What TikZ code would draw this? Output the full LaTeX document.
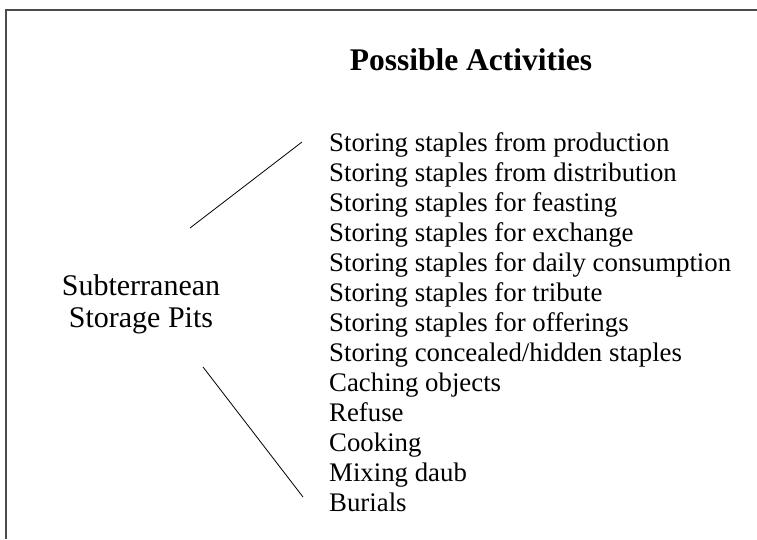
\documentclass[tikz,border=0pt]{standalone}
\usepackage{fontspec}
\setmainfont{Liberation Serif}
\usetikzlibrary{positioning}

\begin{document}
\begin{tikzpicture}[x=1pt,y=-1pt,
  item/.style={anchor=base west,inner sep=0pt,font=\fontsize{26.8}{30}\selectfont},
  head/.style={anchor=base,inner sep=0pt,font=\fontsize{31.5}{32}\selectfont\bfseries},
  pitsbox/.style={align=center,inner sep=0pt,font=\fontsize{30}{32}\selectfont},
  link/.style={line width=0.8pt}
]
  \useasboundingbox (0,0) rectangle (757,539);
  \draw[line width=1.3pt,black!70] (757,10) -- (6,10) -- (6,539);
  \node[head] (title) at (471,70) {Possible Activities};
  \node[pitsbox] (pits) at (141,304) {Subterranean\\Storage Pits};
  \foreach \t [count=\i] in {Storing staples from production,
      Storing staples from distribution,Storing staples for feasting,
      Storing staples for exchange,Storing staples for daily consumption,
      Storing staples for tribute,Storing staples for offerings,
      {Storing concealed/hidden staples},Caching objects,Refuse,Cooking,
      Mixing daub,Burials}
    \node[item] (a\i) at (329,{121+30*\i}) {\t};
  \coordinate (pits up) at (190,228);
  \coordinate (list up) at (302,142);
  \coordinate (pits down) at (203,367);
  \coordinate (list down) at (303,497);
  \draw[link] (pits up) -- (list up);
  \draw[link] (pits down) -- (list down);
\end{tikzpicture}
\end{document}
